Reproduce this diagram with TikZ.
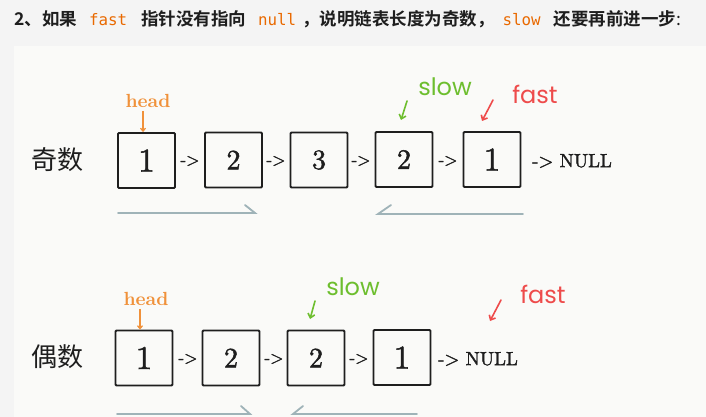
\documentclass[tikz,border=0pt]{standalone}
\usepackage{fontspec}
\newfontfamily\cjk{Noto Sans CJK SC}
\newfontfamily\cjkb{Noto Sans CJK SC}[BoldFont={* Bold}]
\newfontfamily\monof{DejaVu Sans Mono}
\newfontfamily\handf{Poppins}
\newfontfamily\digitf{lmroman10-regular.otf}[FakeBold=1.6]
\newfontfamily\headf{lmroman10-bold.otf}
\usetikzlibrary{arrows.meta}
\definecolor{pagebg}{HTML}{F4F4F4}
\definecolor{imgbg}{HTML}{FAFAF8}
\definecolor{codeor}{HTML}{E96900}
\definecolor{heador}{HTML}{F0913A}
\definecolor{slowgr}{HTML}{6DBE2E}
\definecolor{fastrd}{HTML}{EE4B4B}
\definecolor{guide}{HTML}{9FB3B8}
\definecolor{ink}{HTML}{1E1E1E}
\newcommand{\codew}[1]{{\monof\mdseries\fontsize{15.8}{16}\selectfont\color{codeor}#1}}
\tikzset{
  nbox/.style={draw=ink, line width=1.8pt, rounded corners=1pt, minimum width=57pt, minimum height=55pt, inner sep=0pt, font=\digitf\fontsize{28}{28}\selectfont, text=ink},
  bigone/.style={font=\digitf\fontsize{33}{33}\selectfont},
  link/.style={font=\digitf\fontsize{17}{17}\selectfont, text=ink, inner sep=0pt},
  nulltxt/.style={font=\digitf\fontsize{19}{19}\selectfont, text=ink, inner sep=0pt, anchor=west},
  rowlbl/.style={font=\cjk\fontsize{26}{26}\selectfont, text=ink, inner sep=0pt},
  headlbl/.style={font=\headf\fontsize{19}{19}\selectfont, text=heador, inner sep=0pt},
  headarr/.style={draw=heador, line width=1.2pt, -{Straight Barb[length=3pt,width=5pt]}},
  slowlbl/.style={font=\handf\fontsize{24}{24}\selectfont, text=slowgr, inner sep=0pt},
  fastlbl/.style={font=\handf\fontsize{24}{24}\selectfont, text=fastrd, inner sep=0pt},
  slowarr/.style={draw=slowgr, line width=1.6pt, line cap=round, -{Straight Barb[length=4pt,width=7pt]}},
  fastarr/.style={draw=fastrd, line width=1.6pt, line cap=round, -{Straight Barb[length=4pt,width=7pt]}},
  guideline/.style={draw=guide, line width=1.8pt, line cap=round}
}
\begin{document}
\begin{tikzpicture}[x=1pt,y=-1pt]
\useasboundingbox (0,0) rectangle (706,417);
\fill[pagebg] (0,0) rectangle (706,417);
\fill[imgbg] (14,46) rectangle (706,417);
% title
\node[anchor=west, inner sep=0pt, font=\cjkb\bfseries\fontsize{17.5}{18}\selectfont, text=ink] (title) at (14,19)
 {2、如果\hspace{12pt}\codew{fast}\hspace{14pt}指针没有指向\hspace{12pt}\codew{null}\hspace{6pt}，说明链表长度为奇数，\hspace{8pt}\codew{slow}\hspace{13pt}还要再前进一步{\mdseries:}};
% ---------- odd row ----------
\node[rowlbl] (odd) at (57,160) {奇数};
\node[nbox, bigone] (a1) at (146.5,160.5) {1};
\node[nbox] (a2) at (233.5,160) {2};
\node[nbox] (a3) at (319,160) {3};
\node[nbox] (a4) at (404,159.5) {2};
\node[nbox, bigone] (a5) at (492,159.5) {1};
\node[link] (l1) at (190,161) {->};
\node[link] (l2) at (276,161) {->};
\node[link] (l3) at (361,161) {->};
\node[link] (l4) at (448,161) {->};
\node[nulltxt] (anull) at (532,161) {-> NULL};
\node[headlbl] (ahead) at (148,101) {head};
\draw[headarr] (ahead.south -| 143,0) ++(0,3) coordinate (ah0) -- (a1.north -| 143,0);
\node[slowlbl] (aslow) at (445,87) {slow};
\coordinate (as0) at (407,101);
\coordinate (as1) at (401,120);
\draw[slowarr] (as0) -- (as1);
\node[fastlbl] (afast) at (535,94) {fast};
\coordinate (af0) at (493,100);
\coordinate (af1) at (482,121);
\draw[fastarr] (af0) -- (af1);
\coordinate (ag1s) at (118,213); \coordinate (ag1e) at (255,213); \coordinate (ag1b) at (245,205);
\draw[guideline] (ag1s) -- (ag1e) -- (ag1b);
\coordinate (ag2s) at (523,214); \coordinate (ag2e) at (378,214); \coordinate (ag2b) at (391,205);
\draw[guideline] (ag2s) -- (ag2e) -- (ag2b);
% ---------- even row ----------
\node[rowlbl] (even) at (57,357) {偶数};
\node[nbox, bigone] (b1) at (144,358) {1};
\node[nbox] (b2) at (231,358) {2};
\node[nbox] (b3) at (316,358) {2};
\node[nbox, bigone] (b4) at (402,357.5) {1};
\node[link] (m1) at (188,359) {->};
\node[link] (m2) at (274,359) {->};
\node[link] (m3) at (359,359) {->};
\node[nulltxt] (bnull) at (438,359) {-> NULL};
\node[headlbl] (bhead) at (146,299) {head};
\draw[headarr] (bhead.south -| 140,0) ++(0,3) coordinate (bh0) -- (b1.north -| 140,0);
\node[slowlbl] (bslow) at (353,287) {slow};
\coordinate (bs0) at (315,301);
\coordinate (bs1) at (310,319);
\draw[slowarr] (bs0) -- (bs1);
\node[fastlbl] (bfast) at (543,294) {fast};
\coordinate (bf0) at (501,300);
\coordinate (bf1) at (490,321);
\draw[fastarr] (bf0) -- (bf1);
\coordinate (bg1s) at (117,414); \coordinate (bg1e) at (250,414); \coordinate (bg1b) at (241,406);
\draw[guideline] (bg1s) -- (bg1e) -- (bg1b);
\coordinate (bg2s) at (417,414); \coordinate (bg2e) at (293,414); \coordinate (bg2b) at (303,406);
\draw[guideline] (bg2s) -- (bg2e) -- (bg2b);
\end{tikzpicture}
\end{document}
